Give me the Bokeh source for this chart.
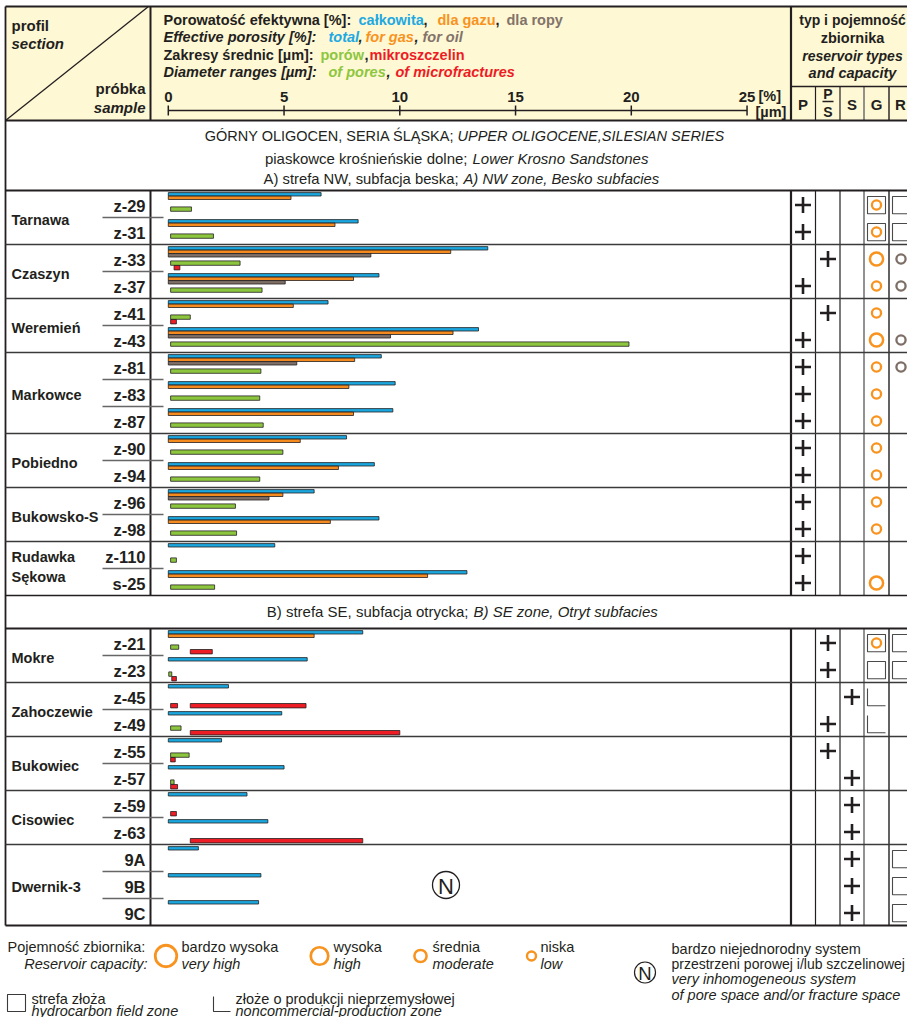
from bokeh.plotting import figure
from bokeh.models import Range1d, ColumnDataSource
from bokeh.core.properties import value
from bokeh.embed import file_html
from bokeh.resources import INLINE

# ---------------- data ----------------
groups_A = ["Tarnawa", "Czaszyn", "Weremień", "Markowce", "Pobiedno", "Bukowsko-S", "Rudawka|Sękowa"]
group_sizes_A = [2, 2, 2, 3, 2, 2, 2]
groups_B = ["Mokre", "Zahoczewie", "Bukowiec", "Cisowiec", "Dwernik-3"]
group_sizes_B = [2, 2, 2, 2, 3]

samples = ["z-29", "z-31", "z-33", "z-37", "z-41", "z-43", "z-81", "z-83", "z-87", "z-90",
           "z-94", "z-96", "z-98", "z-110", "s-25",
           "z-21", "z-23", "z-45", "z-49", "z-55", "z-57", "z-59", "z-63", "9A", "9B", "9C"]
total_porosity = [6.6, 8.2, 13.8, 9.1, 6.9, 13.4, 9.2, 9.8, 9.7, 7.7,
                  8.9, 6.3, 9.1, 4.6, 12.9,
                  8.4, 6.0, 2.6, 4.9, 2.3, 5.0, 3.4, 4.3, 1.3, 4.0, 3.9]
gas_porosity = [5.3, 7.2, 12.2, 8.0, 5.4, 12.3, 8.05, 7.8, 8.0, 5.7,
                7.35, 4.95, 7.0, None, 11.2,
                6.3, None, None, None, None, None, None, None, None, None, None]
oil_porosity = [None, None, 8.75, 5.05, None, 9.6, 5.55, None, None, None,
                None, 4.35, None, None, None,
                None, None, None, None, None, None, None, None, None, None, None]
pore_min = [0.1, 0.1, 0.1, 0.1, 0.1, 0.1, 0.1, 0.1, 0.1, 0.1,
            0.1, 0.1, 0.1, 0.1, 0.1,
            0.1, 0.02, None, 0.1, 0.1, 0.1, None, None, None, None, None]
pore_max = [1.0, 1.95, 3.1, 4.05, 0.95, 19.9, 4.0, 3.95, 4.1, 4.95,
            3.95, 2.9, 2.95, 0.35, 2.0,
            0.45, 0.15, None, 0.55, 0.9, 0.25, None, None, None, None, None]
fracture_sample = ["z-33", "z-41", "z-21", "z-23", "z-45", "z-45", "z-49", "z-55", "z-57", "z-59", "z-63"]
fracture_min = [0.25, 0.1, 0.95, 0.15, 0.1, 0.95, 0.95, 0.1, 0.1, 0.1, 0.95]
fracture_max = [0.5, 0.35, 1.9, 0.35, 0.4, 5.95, 10.0, 0.3, 0.4, 0.35, 8.4]

reservoir_type = ["P", "P", "P/S", "P", "P/S", "P", "P", "P", "P", "P",
                  "P", "P", "P", "P", "P",
                  "P/S", "P/S", "S", "P/S", "P/S", "S", "S", "S", "S", "S", "S"]
gas_capacity = ["low", "low", "moderate", "low", "low", "moderate", "low", "low", "low", "low",
                "low", "low", "low", "", "moderate",
                "low", "", "", "", "", "", "", "", "", "", ""]
oil_capacity = ["", "", "low", "low", "", "low", "low", "", "", "",
                "", "", "", "", "",
                "", "", "", "", "", "", "", "", "", "", ""]
gas_zone = ["field", "field", "", "", "", "", "", "", "", "",
            "", "", "", "", "",
            "field", "field", "noncomm", "noncomm", "", "", "", "", "", "", ""]
oil_zone = ["field", "field", "", "", "", "", "", "", "", "",
            "", "", "", "", "",
            "field", "field", "", "", "", "", "", "", "field", "field", "field"]
inhomogeneous_group = "Dwernik-3"
axis_ticks = [0, 5, 10, 15, 20, 25]

# ---------------- style / layout ----------------
FONT = "Liberation Sans"
INK = "#231F20"
C_BLUE, C_ORANGE, C_GRAY, C_GREEN, C_RED = "#1AA7E0", "#F58A1F", "#7F6F66", "#8CC63E", "#EE1C25"
T_BLUE, T_ORANGE, T_GRAY, T_GREEN, T_RED = "#1EA9E1", "#F7931E", "#827369", "#8DC63F", "#ED1C24"
CAP_ORANGE = "#F7931E"
CAP_GRAY = "#7D6E66"
HEAD_BG = "#FFF8D5"

X0, SC = 167.8, 23.15          # page px of value 0, px per unit
W, H = 907, 1017


def X(px):
    return (px - X0) / SC


p = figure(width=W, height=H, x_range=Range1d(X(0), X(W)), y_range=Range1d(H, 0),
           output_backend="svg", toolbar_location=None, min_border=0,
           x_axis_location=None, y_axis_location=None)
p.grid.visible = False
p.outline_line_color = None
p.background_fill_color = "white"
p.border_fill_color = "white"


def T(xpx, y, s, size=14.5, style="normal", color=INK, align="left"):
    p.text(x=[X(xpx)], y=[y], text=[s], text_font=value(FONT), text_font_size=f"{size}px",
           text_font_style=style, text_color=color, text_align=align, text_baseline="middle")


def seg(x0, y0, x1, y1, color=INK, width=1.5):
    p.segment(x0=[X(x0)], y0=[y0], x1=[X(x1)], y1=[y1], line_color=color, line_width=width)


LEFT, RIGHT, TOP = 5, 915, 6
HEAD_BOT = 120
A_TOP, B_HEAD, B_TOP, BOT = 190, 595, 628, 925
ROW = 27

# header background
p.quad(left=[X(LEFT)], right=[X(RIGHT)], top=[TOP], bottom=[HEAD_BOT], fill_color=HEAD_BG, line_color=None)

# ---------------- row geometry ----------------
row_top = []
group_rows = []  # (name, first_index, n, top)
i = 0
y = A_TOP
for g, n in zip(groups_A, group_sizes_A):
    group_rows.append((g, i, n, y))
    for k in range(n):
        row_top.append(y + k * ROW)
    i += n
    y += n * ROW
y = B_TOP
for g, n in zip(groups_B, group_sizes_B):
    group_rows.append((g, i, n, y))
    for k in range(n):
        row_top.append(y + k * ROW)
    i += n
    y += n * ROW

# ---------------- grid lines ----------------
spans_main = [(TOP, HEAD_BOT), (A_TOP, B_HEAD), (B_TOP, BOT)]
spans_cols = [(86, HEAD_BOT), (A_TOP, B_HEAD), (B_TOP, BOT)]
for (a, b) in spans_main:
    seg(150, a, 150, b, INK, 2.0)
    seg(790.5, a, 790.5, b, INK, 2.2)
for xc, col, wd in [(815, INK, 1.2), (839.5, INK, 1.2), (863.5, "#777777", 1.6), (888.5, INK, 1.4)]:
    for (a, b) in spans_cols:
        seg(xc, a, xc, b, col, wd)
seg(LEFT, TOP, LEFT, BOT, INK, 1.8)
seg(790, 86, RIGHT, 86, INK, 1.4)
for yy, wd in [(TOP, 1.8), (HEAD_BOT, 2.0), (A_TOP, 2.0), (B_HEAD, 1.6), (B_TOP, 2.0), (BOT, 2.0)]:
    seg(LEFT, yy, RIGHT, yy, INK, wd)
for (g, first, n, top) in group_rows:
    if top not in (A_TOP, B_TOP):
        seg(LEFT, top, RIGHT, top, "#3a3a3a", 1.6)
    for k in range(1, n):
        seg(102, top + k * ROW, 163, top + k * ROW, "#666666", 1.3)
# diagonal of the corner cell
seg(5, HEAD_BOT, 148, 6, INK, 1.3)

# ---------------- header texts ----------------
T(11, 25, "profil", 15, "bold")
T(11, 43, "section", 15, "bold italic")
T(145, 88, "próbka", 15, "bold", align="right")
T(145, 107, "sample", 15, "bold italic", align="right")

head_lines = [
    (19, [(163, "Porowatość efektywna [%]:", "bold", INK), (358, "całkowita", "bold", T_BLUE),
          (423, ",", "bold", INK), (437, "dla gazu", "bold", T_ORANGE), (495, ",", "bold", INK),
          (506, "dla ropy", "bold", T_GRAY)]),
    (36, [(163, "Effective porosity [%]:", "bold italic", INK), (328, "total", "bold italic", T_BLUE),
          (358, ",", "bold italic", INK), (365, "for gas", "bold italic", T_ORANGE),
          (414, ",", "bold italic", INK), (422, "for oil", "bold italic", T_GRAY)]),
    (54, [(163, "Zakresy średnic [µm]:", "bold", INK), (320, "porów", "bold", T_GREEN),
          (364, ",", "bold", INK), (369, "mikroszczelin", "bold", T_RED)]),
    (71, [(163, "Diameter ranges [µm]:", "bold italic", INK), (328, "of pores", "bold italic", T_GREEN),
          (386, ",", "bold italic", INK), (395, "of microfractures", "bold italic", T_RED)]),
]
for yy, parts in head_lines:
    for xx, s, st, c in parts:
        T(xx, yy, s, 14.5, st, c)

# axis
p.segment(x0=[0], y0=[110], x1=[axis_ticks[-1]], y1=[110], line_color=INK, line_width=1.5)
p.segment(x0=axis_ticks, y0=[105] * len(axis_ticks), x1=axis_ticks, y1=[115] * len(axis_ticks),
          line_color=INK, line_width=1.5)
p.text(x=axis_ticks, y=[96] * len(axis_ticks), text=[str(t) for t in axis_ticks],
       text_font=value(FONT), text_font_size="15px", text_font_style="bold", text_color=INK,
       text_align="center", text_baseline="middle")
T(758, 95, "[%]", 14.5, "bold")
T(755, 111, "[µm]", 14.5, "bold")

# right header
T(852, 19, "typ i pojemność", 14, "bold", align="center")
T(852, 37, "zbiornika", 14.5, "bold", align="center")
T(852, 55, "reservoir types", 14, "bold italic", align="center")
T(852, 72, "and capacity", 14.5, "bold italic", align="center")
T(802.5, 104, "P", 15, "bold", align="center")
T(827.5, 93, "P", 14, "bold", align="center")
seg(822, 101, 833, 101, INK, 1.5)
T(827.5, 111, "S", 14, "bold", align="center")
T(851.5, 104, "S", 15, "bold", align="center")
T(876, 104, "G", 15, "bold", align="center")
T(900, 104, "R", 15, "bold", align="center")

# ---------------- section headers ----------------
sec_lines = [
    (135, "GÓRNY OLIGOCEN, SERIA ŚLĄSKA;", "UPPER OLIGOCENE,SILESIAN SERIES", 454, 457, 14.5),
    (158, "piaskowce krośnieńskie dolne;", "Lower Krosno Sandstones", 467, 472, 15),
    (178, "A) strefa NW, subfacja beska;", "A) NW zone, Besko subfacies", 458, 463, 14.8),
    (611, "B) strefa SE, subfacja otrycka;", "B) SE zone, Otryt subfacies", 468, 473, 15),
]
for yy, a, b, xa, xb, fs in sec_lines:
    T(xa, yy, a, fs, "normal", INK, "right")
    T(xb, yy, b, fs, "italic", INK, "left")

# ---------------- group and sample labels ----------------
for (g, first, n, top) in group_rows:
    if "|" in g:
        l1, l2 = g.split("|")
        T(11, top + 15, l1, 14.5, "bold")
        T(11, top + 35, l2, 14.5, "bold")
    else:
        T(11, top + n * ROW / 2 + 2, g, 14.5, "bold")
for s, top in zip(samples, row_top):
    T(145, top + 15.5, s, 16.5, "bold", align="right")

# ---------------- bars ----------------
def bars(vals_lo, vals_hi, offs, h, color):
    ys, lo, hi = [], [], []
    for top, a, b in zip(row_top, vals_lo, vals_hi):
        if a is None or b is None:
            continue
        ys.append(top + offs)
        lo.append(a)
        hi.append(b)
    src = ColumnDataSource(dict(y=ys, left=lo, right=hi))
    p.hbar(y="y", left="left", right="right", height=h, source=src,
           fill_color=color, line_color=INK, line_width=0.8)

zeros = [0] * len(samples)
bars(zeros, total_porosity, 3.8, 3.4, C_BLUE)
bars(zeros, gas_porosity, 7.3, 3.4, C_ORANGE)
bars(zeros, oil_porosity, 10.8, 3.4, C_GRAY)
bars(pore_min, pore_max, 18.6, 4.4, C_GREEN)
idx = {s: k for k, s in enumerate(samples)}
fsrc = ColumnDataSource(dict(y=[row_top[idx[s]] + 23.2 for s in fracture_sample],
                             left=fracture_min, right=fracture_max))
p.hbar(y="y", left="left", right="right", height=4.4, source=fsrc,
       fill_color=C_RED, line_color=INK, line_width=0.8)

# ---------------- reservoir type / capacity columns ----------------
type_x = {"P": 802.5, "P/S": 827.5, "S": 851.5}
p.scatter(x=[X(type_x[t]) for t in reservoir_type], y=[top + 14.5 for top in row_top],
          marker="cross", size=16, line_width=2.6, line_color=INK)

cap_size = {"low": (9.2, 2.3), "moderate": (13.2, 2.5), "high": (17.5, 2.6), "very high": (21.5, 2.7)}
for col_x, caps, color in [(876, gas_capacity, CAP_ORANGE), (900.5, oil_capacity, CAP_GRAY)]:
    for c, top in zip(caps, row_top):
        if c:
            sz, lw = cap_size[c]
            p.scatter(x=[X(col_x)], y=[top + 14.5], marker="circle", size=sz, line_width=lw,
                      line_color=color, fill_color=None)
for col_x, zones in [(876, gas_zone), (901, oil_zone)]:
    for z, top in zip(zones, row_top):
        if z == "field":
            p.quad(left=[X(col_x - 9)], right=[X(col_x + 9)], top=[top + 6], bottom=[top + 23.3],
                   fill_color=None, line_color="#4a4a4a", line_width=1.1)
        elif z == "noncomm":
            p.multi_line(xs=[[X(col_x - 9), X(col_x - 9), X(col_x + 9)]],
                         ys=[[top + 6, top + 23.3, top + 23.3]], line_color="#4a4a4a", line_width=1.1)

# inhomogeneous system mark
for (g, first, n, top) in group_rows:
    if g == inhomogeneous_group:
        cy = top + n * ROW / 2
        p.scatter(x=[X(445.5)], y=[cy], marker="circle", size=27, line_width=1.3,
                  line_color=INK, fill_color=None)
        T(445.5, cy + 1, "N", 22, "normal", INK, "center")

# ---------------- legend ----------------
LY1, LY2 = 946, 963
T(7, LY1, "Pojemność zbiornika:", 14.5)
T(147, LY2, "Reservoir capacity:", 14.5, "italic", align="right")
legend_caps = [("very high", 165.5, "bardzo wysoka", 181), ("high", 319, "wysoka", 333),
               ("moderate", 420, "średnia", 432), ("low", 531, "niska", 540)]
for key, cx, pl, tx in legend_caps:
    base = {"very high": (21.5, 2.8), "high": (17.5, 2.7), "moderate": (12.2, 2.5), "low": (9.0, 2.4)}[key]
    p.scatter(x=[X(cx)], y=[955.5], marker="circle", size=base[0], line_width=base[1],
              line_color=CAP_ORANGE, fill_color=None)
    T(tx, LY1, pl, 14.5)
    T(tx, LY2, key, 14.5, "italic")

LY3, LY4 = 998, 1010
p.quad(left=[X(7)], right=[X(25)], top=[994], bottom=[1011], fill_color=None,
       line_color="#3a3a3a", line_width=1.1)
T(31, LY3, "strefa złoża", 14.5)
T(31, LY4, "hydrocarbon field zone", 14.5, "italic")
p.multi_line(xs=[[X(213), X(213), X(230)]], ys=[[996, 1011, 1011]], line_color="#3a3a3a", line_width=1.1)
T(235, LY3, "złoże o produkcji nieprzemysłowej", 14.5)
T(235, LY4, "noncommercial-production zone", 14.5, "italic")

p.scatter(x=[X(644.5)], y=[972], marker="circle", size=21, line_width=1.2, line_color=INK, fill_color=None)
T(644.5, 973, "N", 18.5, "normal", INK, "center")
T(671, 948, "bardzo niejednorodny system", 14.5)
T(671, 963, "przestrzeni porowej i/lub szczelinowej", 14)
T(671, 978, "very inhomogeneous system", 14.5, "italic")
T(671, 994, "of pore space and/or fracture space", 14.5, "italic")

open("out.html", "w").write(file_html(p, INLINE))
